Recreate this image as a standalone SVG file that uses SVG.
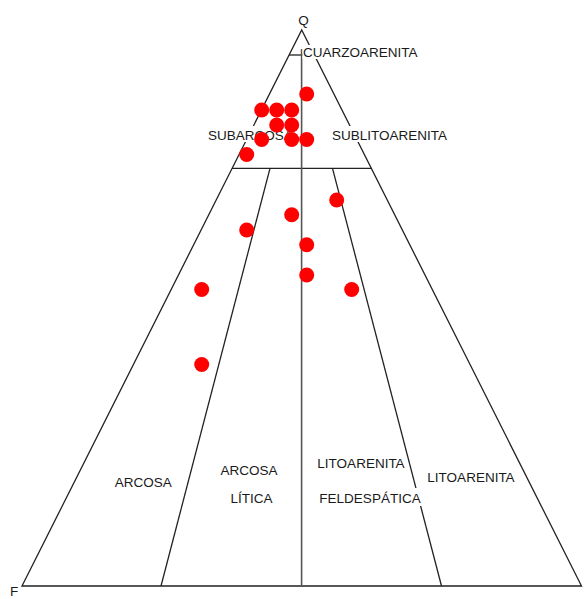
<svg xmlns="http://www.w3.org/2000/svg" width="584" height="599" viewBox="0 0 584 599">
  <style>
    .ln { stroke: #222; stroke-width: 1.3; fill: none; }
    .vl { stroke: #555; stroke-width: 1.6; fill: none; }
    .lbl { font-family: "Liberation Sans", Arial, sans-serif; font-size: 13.5px; fill: #1a1a1a; }
    .bg { fill: #fff; }
    .pt { fill: #ff0000; }
  </style>
  <rect width="584" height="599" fill="#fff"/>
  <g id="connectors">
    <polygon class="ln" points="22,586 301.7,30 581.5,586"/>
    <line class="ln" x1="289.1" y1="55" x2="314.4" y2="55"/>
    <line class="ln" x1="232.1" y1="168.3" x2="371.4" y2="168.3"/>
    <line class="ln" x1="270" y1="168.3" x2="161" y2="586"/>
    <line class="ln" x1="332.5" y1="168.3" x2="441.5" y2="586"/>
    <line class="vl" x1="301.6" y1="49" x2="301.6" y2="586"/>
  </g>
  <g id="labels">
    <text class="lbl" x="303.5" y="25" text-anchor="middle">Q</text>
    <text class="lbl" x="10" y="595.5">F</text>
    <g id="cuarzoarenita">
      <rect class="bg" x="302.5" y="45" width="117" height="14"/>
      <text class="lbl" x="303" y="57">CUARZOARENITA</text>
    </g>
    <g id="subarcosa">
      <rect class="bg" x="207" y="126" width="87" height="16"/>
      <text class="lbl" x="208" y="140">SUBARCOSA</text>
    </g>
    <g id="sublitoarenita">
      <rect class="bg" x="331" y="126" width="120" height="16"/>
      <text class="lbl" x="332" y="140">SUBLITOARENITA</text>
    </g>
    <g id="arcosa">
      <text class="lbl" x="143.3" y="486.5" text-anchor="middle">ARCOSA</text>
    </g>
    <g id="arcosa-litica">
      <text class="lbl" x="249" y="475" text-anchor="middle">ARCOSA</text>
      <text class="lbl" x="251.5" y="503" text-anchor="middle">LÍTICA</text>
    </g>
    <g id="litoarenita-feldespatica">
      <rect class="bg" x="316" y="488" width="107" height="18"/>
      <text class="lbl" x="361" y="468.3" text-anchor="middle">LITOARENITA</text>
      <text class="lbl" x="370" y="503" text-anchor="middle">FELDESPÁTICA</text>
    </g>
    <g id="litoarenita">
      <text class="lbl" x="471" y="482" text-anchor="middle">LITOARENITA</text>
    </g>
  </g>
  <g id="points">
    <circle class="pt" cx="306.7" cy="94" r="7.5"/>
    <circle class="pt" cx="261.7" cy="110" r="7.5"/>
    <circle class="pt" cx="276.7" cy="110" r="7.5"/>
    <circle class="pt" cx="291.7" cy="110" r="7.5"/>
    <circle class="pt" cx="276.7" cy="125" r="7.5"/>
    <circle class="pt" cx="291.7" cy="125" r="7.5"/>
    <circle class="pt" cx="261.7" cy="139.5" r="7.5"/>
    <circle class="pt" cx="291.7" cy="139.5" r="7.5"/>
    <circle class="pt" cx="306.7" cy="139.5" r="7.5"/>
    <circle class="pt" cx="246.7" cy="154.5" r="7.5"/>
    <circle class="pt" cx="336.7" cy="200" r="7.5"/>
    <circle class="pt" cx="291.7" cy="214.7" r="7.5"/>
    <circle class="pt" cx="246.7" cy="230" r="7.5"/>
    <circle class="pt" cx="306.7" cy="244.7" r="7.5"/>
    <circle class="pt" cx="306.7" cy="275" r="7.5"/>
    <circle class="pt" cx="201.7" cy="289.5" r="7.5"/>
    <circle class="pt" cx="351.7" cy="289.5" r="7.5"/>
    <circle class="pt" cx="201.7" cy="364.5" r="7.5"/>
  </g>
</svg>
